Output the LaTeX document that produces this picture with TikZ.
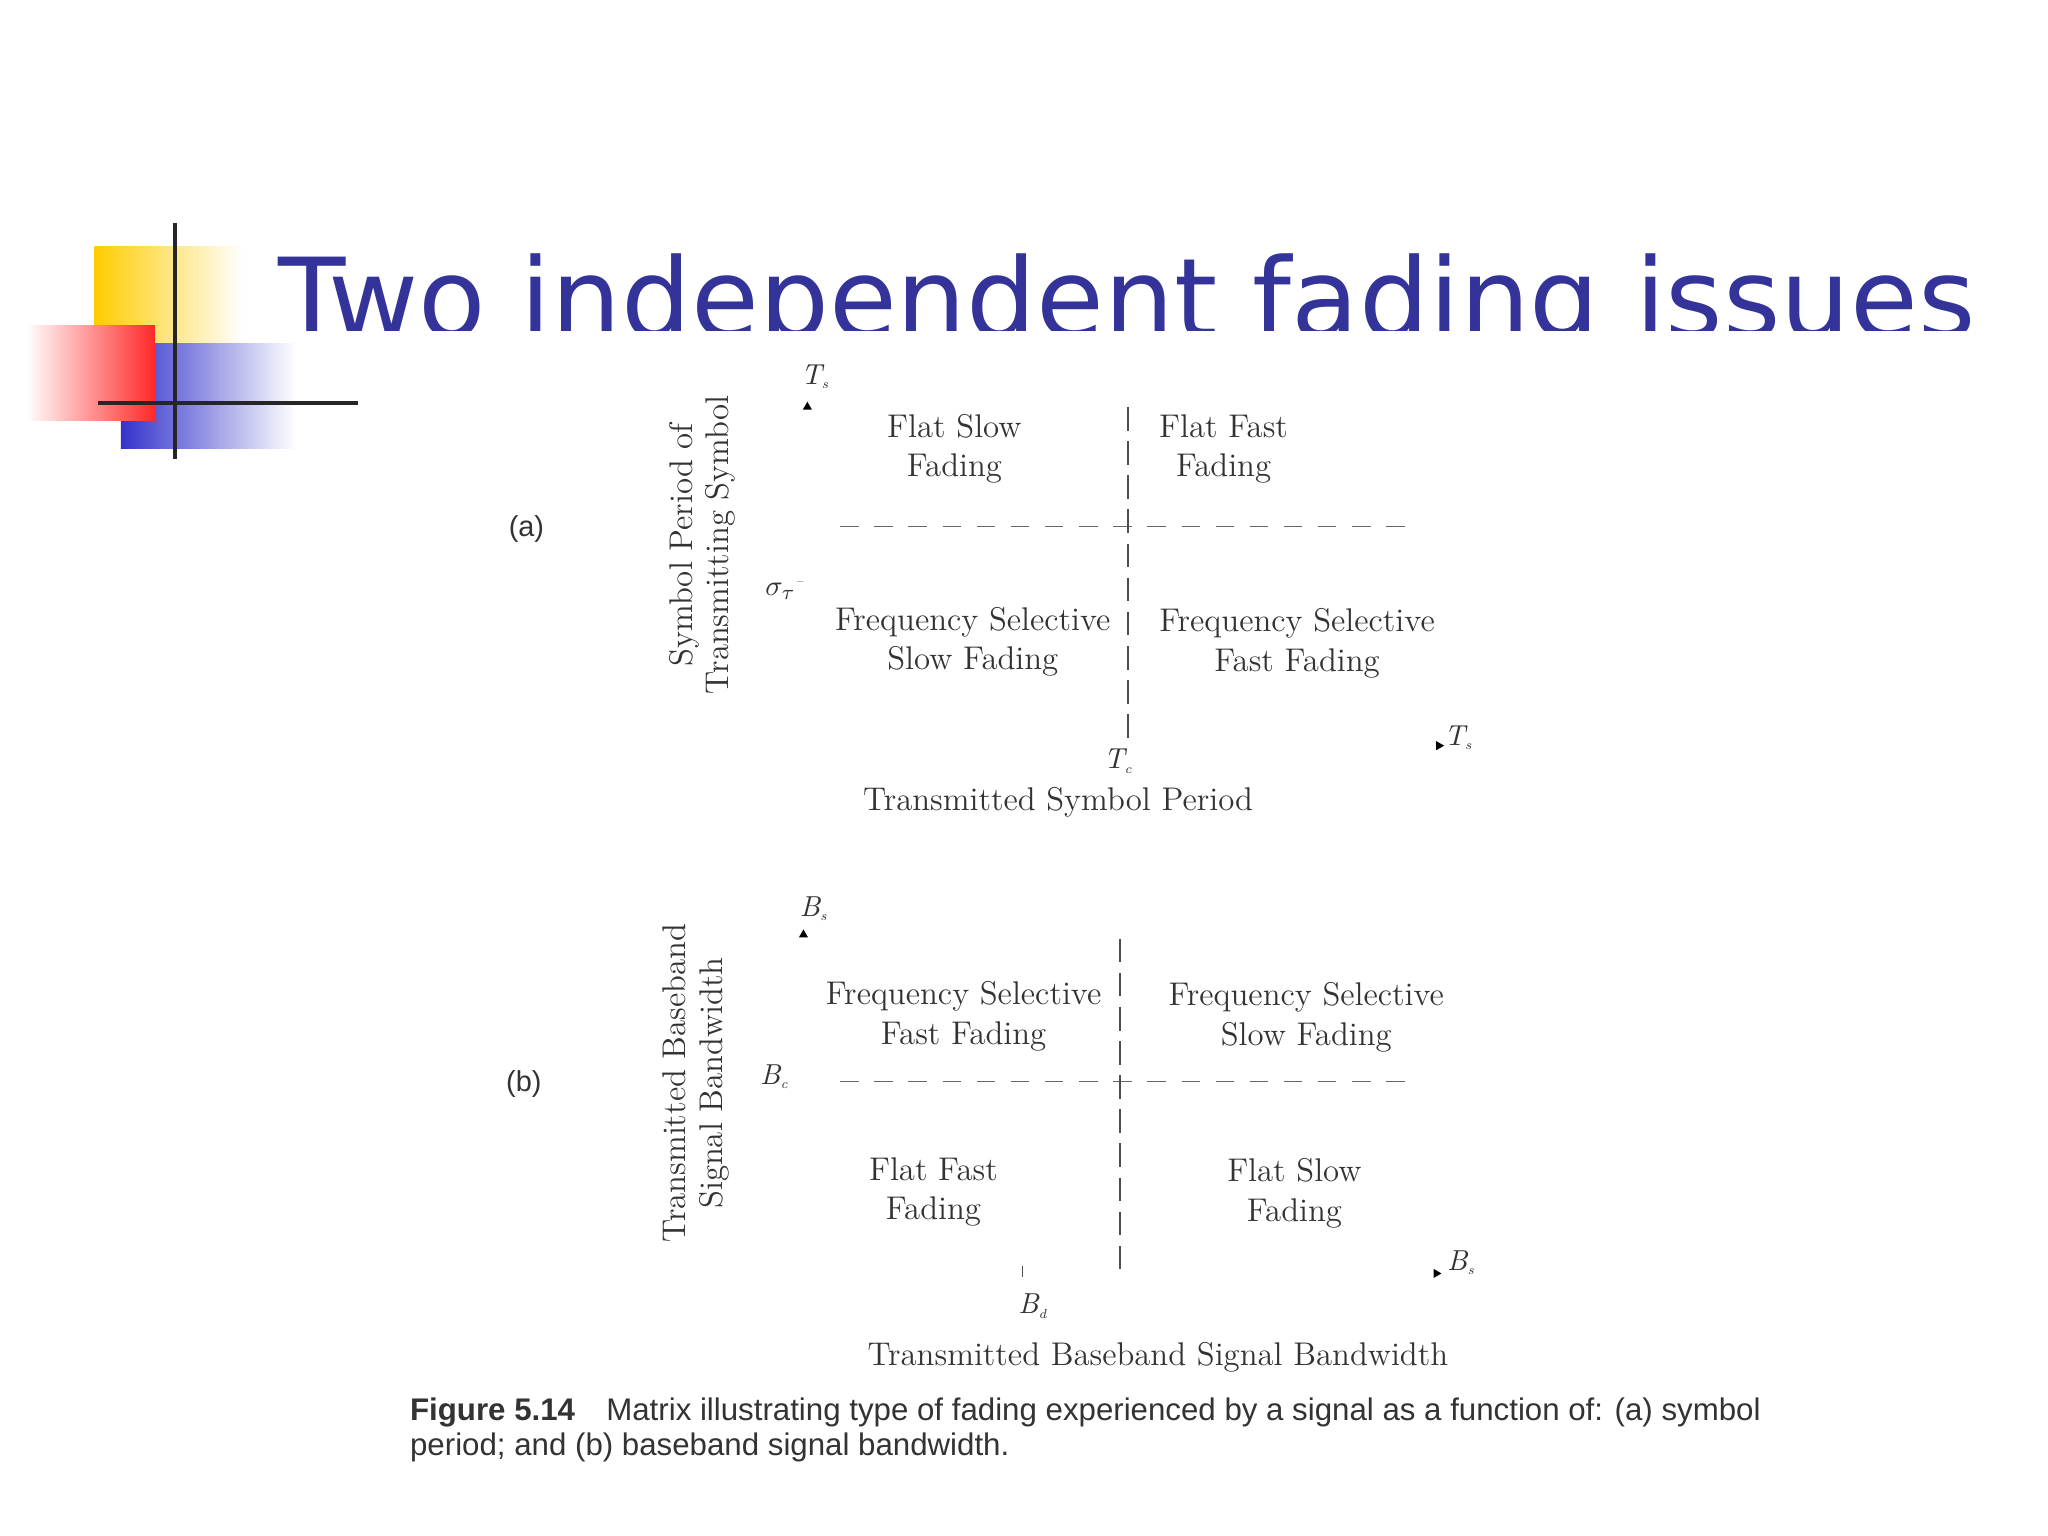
\documentclass[tikz,border=0pt]{standalone}
\usepackage{fontspec}
\setmainfont{Latin Modern Roman}
\newfontfamily\titlefont{DejaVu Sans}
\newfontfamily\capfont{Liberation Sans}
\definecolor{tblue}{RGB}{51,51,153}
\definecolor{lyel}{RGB}{255,204,0}
\definecolor{lred}{RGB}{255,40,40}
\definecolor{lblu}{RGB}{51,51,204}
\tikzset{x=0.5pt,y=-0.5pt,
 lab/.style={font=\fontsize{12.5}{15}\selectfont,align=center,text=black!80},
 axl/.style={font=\fontsize{12.5}{14}\selectfont,align=center,text=black!80,rotate=90},
 sym/.style={font=\fontsize{11}{12}\selectfont\itshape,text=black!80},
 dsh/.style={black!60,dash pattern=on 7pt off 6pt,line width=0.5pt},
 vd/.style={black!70,dash pattern=on 9pt off 4pt,line width=0.6pt},
 tri/.style={fill=black,inner sep=0pt,minimum size=4pt,regular polygon,regular polygon sides=3},
 pl/.style={font=\capfont\fontsize{11}{12}\selectfont,text=black!80}}
\usetikzlibrary{shapes.geometric}
\begin{document}
\begin{tikzpicture}
\useasboundingbox (0,0) rectangle (1560,1170);
\fill[white] (0,0) rectangle (1560,1170);
% logo
\shade[left color=lyel,right color=white] (72,188) rectangle (185,262);
\shade[left color=lblu,right color=white] (92,262) rectangle (225,342);
\shade[right color=lred,left color=white] (20,248) rectangle (118,320);
\draw[black!85,line width=1.5pt] (133,170) -- (133,350);
\draw[black!85,line width=1.5pt] (75,307) -- (273,307);
% title
\begin{scope}
\clip (200,150) rectangle (1560,252);
\node[anchor=base west,inner sep=0pt,text=tblue,font=\titlefont\fontsize{42}{44}\selectfont] (title) at (212,257) {Two independent fading issues};
\end{scope}
% (a)
\node[pl] (pa) at (401,403) {(a)};
\node[axl] (ya) at (535,415) {Symbol Period of\\Transmitting Symbol};
\node[sym] (tsa) at (621,287) {T\textsubscript{\tiny s}};
\node[tri] (ua) at (615,310) {};
\node[sym] (sig) at (598,450) {$\sigma_\tau$\textsuperscript{\tiny --}};
\draw[dsh] (640,401) -- (1075,401);
\draw[vd] (859,310) -- (859,565);
\node[lab] (a1) at (727,342) {Flat Slow\\Fading};
\node[lab] (a2) at (932,342) {Flat Fast\\Fading};
\node[lab] (a3) at (741,489) {Frequency Selective\\Slow Fading};
\node[lab] (a4) at (988,490) {Frequency Selective\\Fast Fading};
\node[tri,shape border rotate=-90] (ra) at (1096,568) {};
\node[sym] (tsx) at (1111,562) {T\textsubscript{\tiny s}};
\node[sym] (tc) at (852,580) {T\textsubscript{\tiny c}};
\node[lab] (xa) at (806,611) {Transmitted Symbol Period};
% (b)
\node[pl] (pb) at (399,826) {(b)};
\node[axl] (yb) at (530,825) {Transmitted Baseband\\Signal Bandwidth};
\node[sym] (bsa) at (620,692) {B\textsubscript{\tiny s}};
\node[tri] (ub) at (612,712) {};
\node[sym] (bc) at (590,820) {B\textsubscript{\tiny c}};
\draw[dsh] (640,824) -- (1075,824);
\draw[vd] (853,715) -- (853,970);
\node[lab] (b1) at (734,774) {Frequency Selective\\Fast Fading};
\node[lab] (b2) at (995,775) {Frequency Selective\\Slow Fading};
\node[lab] (b3) at (711,908) {Flat Fast\\Fading};
\node[lab] (b4) at (986,909) {Flat Slow\\Fading};
\coordinate (bt1) at (779,964);
\coordinate (bt2) at (779,973);
\draw[black!70,line width=0.6pt] (bt1) -- (bt2);
\node[sym] (bd) at (787,995) {B\textsubscript{\tiny d}};
\node[tri,shape border rotate=-90] (rb) at (1094,970) {};
\node[sym] (bsx) at (1113,962) {B\textsubscript{\tiny s}};
\node[lab] (xb) at (882,1034) {Transmitted Baseband Signal Bandwidth};
% caption
\node[pl,anchor=west,align=left,inner sep=0pt,font=\capfont\fontsize{11.9}{13.5}\selectfont] (cap) at (312,1089) {\textbf{Figure 5.14}\quad Matrix illustrating type of fading experienced by a signal as a function of: (a) symbol\\period; and (b) baseband signal bandwidth.};
\end{tikzpicture}
\end{document}
